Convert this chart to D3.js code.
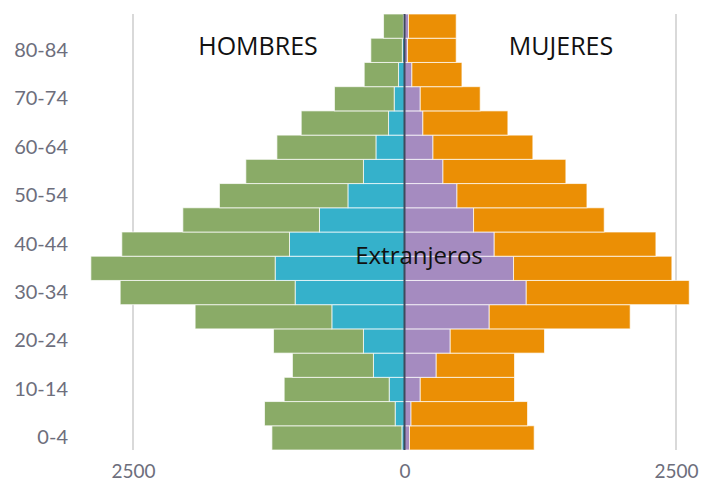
<!DOCTYPE html>
<html lang="es">
<head>
<meta charset="UTF-8">
<title>Pirámide de población</title>
<script src="https://cdn.jsdelivr.net/npm/d3@7"></script>
<style>
    body { margin: 0; background: #fff; }
</style>
</head>
<body>
<svg id="main" width="702" height="483"></svg>
<script>
    // age groups, bottom to top
    const ages = ['0-4', '5-9', '10-14', '15-19', '20-24', '25-29', '30-34', '35-39', '40-44',
        '45-49', '50-54', '55-59', '60-64', '65-69', '70-74', '75-79', '80-84', '85+'];
    const menTotal = [1221, 1289, 1108, 1032, 1206, 1928, 2618, 2888, 2603,
        2041, 1704, 1461, 1175, 951, 645, 371, 310, 193];
    const menForeign = [24, 86, 141, 286, 378, 669, 1007, 1191, 1059,
        783, 521, 378, 263, 147, 95, 55, 20, 10];
    const womenTotal = [1194, 1133, 1013, 1013, 1289, 2078, 2622, 2462, 2315,
        1839, 1680, 1486, 1182, 952, 697, 529, 476, 476];
    const womenForeign = [46, 60, 145, 292, 421, 780, 1121, 1004, 826,
        636, 483, 354, 262, 169, 145, 68, 28, 37];
    const tickValues = [-2500, 0, 2500];
    const shownAges = ['0-4', '10-14', '20-24', '30-34', '40-44', '50-54', '60-64', '70-74', '80-84'];

    const colors = {
        menNat: '#8aab67',
        menFor: '#35b1cb',
        womNat: '#eb8f05',
        womFor: '#a58bc0'
    };

    let svg = d3.select('svg#main');

    let x = d3.scaleLinear().domain([-2500, 2500]).range([133, 676]);
    let y = d3.scaleBand().domain(ages.slice().reverse()).range([14, 450]).padding(0);

    let rows = ages.map((a, i) => ({
        age: a,
        mt: menTotal[i], mf: menForeign[i],
        wt: womenTotal[i], wf: womenForeign[i]
    }));

    // light grid lines at +-2500
    svg.append('g').selectAll('line')
        .data(tickValues.filter(d => d !== 0))
        .enter().append('line')
        .attr('x1', d => x(d)).attr('x2', d => x(d))
        .attr('y1', 14).attr('y2', 450)
        .attr('stroke', '#d9d9d9').attr('stroke-width', 2);

    // bars: foreign part from 0, national part stacked outside it
    let segs = [];
    rows.forEach(r => {
        segs.push({age: r.age, a: 0, b: -r.mf, c: colors.menFor});
        segs.push({age: r.age, a: -r.mf, b: -r.mt, c: colors.menNat});
        segs.push({age: r.age, a: 0, b: r.wf, c: colors.womFor});
        segs.push({age: r.age, a: r.wf, b: r.wt, c: colors.womNat});
    });

    svg.append('g').selectAll('rect')
        .data(segs)
        .enter().append('rect')
        .attr('x', d => x(Math.min(d.a, d.b)))
        .attr('width', d => Math.abs(x(d.b) - x(d.a)))
        .attr('y', d => y(d.age))
        .attr('height', y.bandwidth())
        .attr('fill', d => d.c)
        .attr('stroke', '#ffffff')
        .attr('stroke-opacity', 0.7)
        .attr('stroke-width', 1);

    // zero line
    svg.append('line')
        .attr('x1', x(0)).attr('x2', x(0))
        .attr('y1', 14).attr('y2', 450)
        .attr('stroke', '#3f4a5c').attr('stroke-width', 2);

    // age labels
    let yAxis = svg.append('g')
        .attr('transform', 'translate(78,0)')
        .call(d3.axisLeft(y).tickValues(shownAges).tickSize(0).tickPadding(10));
    yAxis.select('.domain').remove();
    yAxis.selectAll('text')
        .attr('fill', '#6d6e7c')
        .style('font-family', 'Lato, sans-serif')
        .style('font-size', '20px');

    // value labels
    let xAxis = svg.append('g')
        .attr('transform', 'translate(0,457)')
        .call(d3.axisBottom(x).tickValues(tickValues).tickFormat(d => Math.abs(d)).tickSize(0).tickPadding(8));
    xAxis.select('.domain').remove();
    xAxis.selectAll('text')
        .attr('fill', '#6d6e7c')
        .style('font-family', 'Lato, sans-serif')
        .style('font-size', '19px');

    // titles
    const titleFont = "'Open Sans', sans-serif";
    svg.append('text').text('HOMBRES')
        .attr('x', 258).attr('y', 55)
        .attr('text-anchor', 'middle')
        .style('font-family', titleFont).style('font-size', '25px').attr('fill', '#111');
    svg.append('text').text('MUJERES')
        .attr('x', 561).attr('y', 55)
        .attr('text-anchor', 'middle')
        .style('font-family', titleFont).style('font-size', '25px').attr('fill', '#111');
    svg.append('text').text('Extranjeros')
        .attr('x', 419).attr('y', 264)
        .attr('text-anchor', 'middle')
        .style('font-family', titleFont).style('font-size', '24px').attr('fill', '#111');
</script>
</body>
</html>
